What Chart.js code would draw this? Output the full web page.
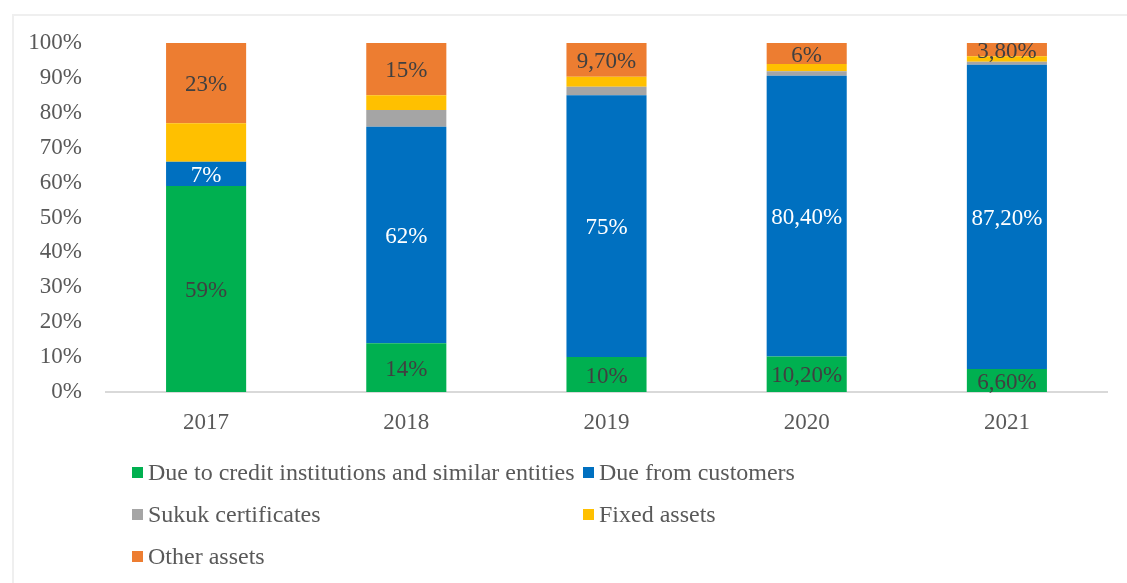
<!DOCTYPE html>
<html lang="en">
<head>
    <meta charset="UTF-8">
    <title>Asset structure 2017-2021</title>
    <style>
        body {
            margin: 0;
            padding: 0;
            background: #fff;
            font-family: "Liberation Serif", "Times New Roman", serif;
        }

        .frame {
            position: absolute;
            left: 12px;
            top: 14px;
            width: 1200px;
            height: 700px;
            border: 2px solid #efefef;
        }

        #chart {
            position: absolute;
            left: 0;
            top: 0;
        }

        .legend {
            position: absolute;
            left: 132px;
            top: 451px;
            display: grid;
            grid-template-columns: 451px auto;
            grid-auto-rows: 42px;
            color: #595959;
            font-size: 24px;
        }

        .legend-item {
            display: flex;
            align-items: center;
            white-space: nowrap;
        }

        .legend-box {
            width: 11px;
            height: 11px;
            margin-right: 5px;
            flex: none;
        }
    </style>
</head>
<body>
    <div class="frame"></div>
    <canvas id="chart" width="1127" height="583"></canvas>
    <div class="legend" id="legend"></div>

    <script src="https://cdn.jsdelivr.net/npm/chart.js"></script>
    <script>
        const years = ['2017', '2018', '2019', '2020', '2021'];

        // shares of total assets, %
        const dueToCredit = [59, 14, 10, 10.2, 6.6];
        const dueFromCustomers = [7, 62, 75, 80.4, 87.2];
        const sukuk = [0, 4.8, 2.5, 1.3, 0.8];
        const fixedAssets = [11, 4.2, 2.8, 2.1, 1.6];
        const otherAssets = [23, 15, 9.7, 6, 3.8];

        const yTicks = [0, 10, 20, 30, 40, 50, 60, 70, 80, 90, 100];

        const serif = '"Liberation Serif", "Times New Roman", serif';

        // 59 -> "59%", 9.7 -> "9,70%"
        function pct(v) {
            return Number.isInteger(v) ? v + '%' : v.toFixed(2).replace('.', ',') + '%';
        }

        // writes the value in the middle of each segment
        const segmentLabels = {
            id: 'segmentLabels',
            afterDatasetsDraw(chart) {
                const c = chart.ctx;
                c.save();
                c.font = '23px ' + serif;
                c.textAlign = 'center';
                c.textBaseline = 'middle';
                chart.data.datasets.forEach((ds, i) => {
                    if (!ds.labelColor) return;
                    chart.getDatasetMeta(i).data.forEach((bar, j) => {
                        const p = bar.getProps(['x', 'y', 'base'], true);
                        c.fillStyle = ds.labelColor;
                        c.fillText(pct(ds.data[j]), p.x, (p.y + p.base) / 2 + 2);
                    });
                });
                c.restore();
            }
        };

        const chart = new Chart(document.getElementById('chart'), {
            type: 'bar',
            data: {
                labels: years,
                datasets: [
                    { label: 'Due to credit institutions and similar entities', data: dueToCredit, backgroundColor: '#00b050', labelColor: '#404040' },
                    { label: 'Due from customers', data: dueFromCustomers, backgroundColor: '#0070c0', labelColor: '#ffffff' },
                    { label: 'Sukuk certificates', data: sukuk, backgroundColor: '#a5a5a5' },
                    { label: 'Fixed assets', data: fixedAssets, backgroundColor: '#ffc000' },
                    { label: 'Other assets', data: otherAssets, backgroundColor: '#ed7d31', labelColor: '#404040' }
                ]
            },
            options: {
                responsive: false,
                animation: false,
                barPercentage: 0.4,
                categoryPercentage: 1,
                layout: {
                    padding: { left: 12, right: 20, top: 43, bottom: 141 }
                },
                plugins: {
                    legend: { display: false },
                    tooltip: { enabled: false }
                },
                scales: {
                    x: {
                        stacked: true,
                        grid: { display: false, drawTicks: false },
                        border: { color: '#d9d9d9', width: 2 },
                        ticks: { color: '#595959', font: { family: serif, size: 23 }, padding: 17 },
                        afterFit: s => { s.height = 50; }
                    },
                    y: {
                        stacked: true,
                        min: 0,
                        max: 100,
                        grid: { display: false, drawTicks: false },
                        border: { display: false },
                        afterBuildTicks: s => { s.ticks = yTicks.map(v => ({ value: v })); },
                        ticks: {
                            color: '#595959',
                            font: { family: serif, size: 23 },
                            padding: 24,
                            callback: v => v + '%'
                        },
                        afterFit: s => { s.width = 94; }
                    }
                }
            },
            plugins: [segmentLabels]
        });

        // legend laid out in two columns under the plot
        const legend = document.getElementById('legend');
        chart.data.datasets.forEach(ds => {
            const item = document.createElement('div');
            item.className = 'legend-item';
            item.innerHTML = '<span class="legend-box" style="background:' + ds.backgroundColor + '"></span>' + ds.label;
            legend.appendChild(item);
        });
    </script>
</body>
</html>
